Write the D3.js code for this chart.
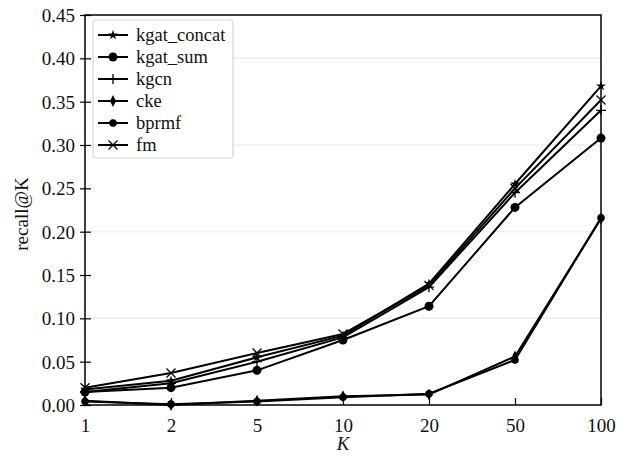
<!DOCTYPE html>
<html>
<head>
<script src="https://d3js.org/d3.v7.min.js"></script>
<style>
 body { margin: 0; background: #fff; }
</style>
</head>
<body>
<svg width="618" height="456"></svg>
<script>
 const kValues = ["1", "2", "5", "10", "20", "50", "100"];
 const yTicks = [0, 0.05, 0.10, 0.15, 0.20, 0.25, 0.30, 0.35, 0.40, 0.45];
 const gridTicks = [0.10, 0.20, 0.30, 0.40];

 const kgatConcat = [0.018, 0.028, 0.055, 0.080, 0.140, 0.255, 0.368];
 const kgatSum    = [0.015, 0.020, 0.040, 0.075, 0.114, 0.228, 0.308];
 const kgcn       = [0.015, 0.025, 0.050, 0.078, 0.136, 0.245, 0.340];
 const cke        = [0.005, 0.000, 0.005, 0.010, 0.012, 0.056, 0.215];
 const bprmf      = [0.004, 0.001, 0.004, 0.009, 0.013, 0.052, 0.216];
 const fm         = [0.020, 0.037, 0.060, 0.082, 0.138, 0.250, 0.352];

 const series = [
     {name: "kgat_concat", values: kgatConcat, marker: "star"},
     {name: "kgat_sum", values: kgatSum, marker: "circle"},
     {name: "kgcn", values: kgcn, marker: "plus"},
     {name: "cke", values: cke, marker: "diamond"},
     {name: "bprmf", values: bprmf, marker: "pentagon"},
     {name: "fm", values: fm, marker: "x"}
 ];

 const serif = "Liberation Serif";

 const svg = d3.select("svg");
 const margin = {top: 15, right: 17, bottom: 51, left: 85};
 const innerWidth = 618 - margin.left - margin.right;
 const innerHeight = 456 - margin.top - margin.bottom;

 const x = d3.scalePoint().domain(kValues).range([0, innerWidth]);
 const y = d3.scaleLinear().domain([0, 0.45]).range([innerHeight, 0]);

 const g = svg.append("g").attr("transform", `translate(${margin.left},${margin.top})`);

 // faint grid
 g.selectAll(".grid").data(gridTicks).join("line")
  .attr("x1", 0).attr("x2", innerWidth)
  .attr("y1", d => y(d)).attr("y2", d => y(d))
  .attr("stroke", "#eeeeee").attr("stroke-width", 1.5);

 // axes
 const yAxis = g.append("g")
  .call(d3.axisLeft(y).tickValues(yTicks).tickFormat(d3.format(".2f")).tickSize(5).tickPadding(5));
 yAxis.selectAll(".tick line").attr("x2", 6).attr("x1", -5);
 yAxis.selectAll(".tick text").attr("dy", null).attr("y", 6.5);
 const xAxis = g.append("g").attr("transform", `translate(0,${innerHeight})`)
  .call(d3.axisBottom(x).tickSize(-7).tickPadding(12));
 xAxis.selectAll(".tick text").attr("dy", null).attr("y", 27);
 [yAxis, xAxis].forEach(a => {
     a.attr("font-family", serif).attr("font-size", 19);
     a.select(".domain").remove();
     a.selectAll(".tick line").attr("stroke", "#000").attr("stroke-width", 1.2);
     a.selectAll("text").attr("fill", "#111");
 });

 g.append("rect").attr("width", innerWidth).attr("height", innerHeight)
  .attr("fill", "none").attr("stroke", "#000").attr("stroke-width", 1.5);

 // markers
 function drawMarker(sel, type, cx, cy) {
     const m = sel.append("g").attr("transform", `translate(${cx},${cy})`);
     if (type === "circle") {
         m.append("circle").attr("r", 4.5).attr("fill", "#000");
     } else if (type === "pentagon") {
         m.append("path").attr("d", d3.symbol(d3.symbolCircle, 45)()).attr("fill", "#000");
     } else if (type === "diamond") {
         m.append("path").attr("d", "M0,-6L3,0L0,6L-3,0Z").attr("fill", "#000");
     } else if (type === "star") {
         m.append("path").attr("d", d3.symbol(d3.symbolStar, 30)()).attr("fill", "#000");
     } else if (type === "plus") {
         m.append("path").attr("d", "M-5,0H5M0,-5V5").attr("stroke", "#000").attr("stroke-width", 1.3);
     } else if (type === "x") {
         m.append("path").attr("d", "M-4.5,-4.5L4.5,4.5M-4.5,4.5L4.5,-4.5").attr("stroke", "#000").attr("stroke-width", 1.3);
     }
 }

 const line = d3.line().x((d, i) => x(kValues[i])).y(d => y(d));
 series.forEach(s => {
     g.append("path").datum(s.values).attr("d", line)
      .attr("fill", "none").attr("stroke", "#000").attr("stroke-width", 2);
     s.values.forEach((v, i) => drawMarker(g, s.marker, x(kValues[i]), y(v)));
 });

 // legend
 const legend = svg.append("g").attr("transform", "translate(93,20)");
 legend.append("rect").attr("width", 140).attr("height", 138).attr("rx", 3)
  .attr("fill", "#fff").attr("stroke", "#d8d8d8").attr("stroke-width", 1.2);
 series.forEach((s, i) => {
     const ly = 15 + i * 22;
     legend.append("line").attr("x1", 5).attr("x2", 35).attr("y1", ly).attr("y2", ly)
      .attr("stroke", "#000").attr("stroke-width", 2);
     drawMarker(legend, s.marker, 20, ly);
     legend.append("text").attr("x", 43).attr("y", ly + 6)
      .attr("font-family", serif).attr("font-size", 18.5).attr("fill", "#111").text(s.name);
 });

 // axis labels
 svg.append("text").attr("transform", "translate(28,214) rotate(-90)")
  .attr("text-anchor", "middle").attr("font-family", serif).attr("font-size", 19)
  .attr("fill", "#111").text("recall@K");
 svg.append("text").attr("x", margin.left + x("10")).attr("y", 450)
  .attr("text-anchor", "middle").attr("font-family", serif).attr("font-size", 19)
  .attr("font-style", "italic").attr("fill", "#111").text("K");
</script>
</body>
</html>
